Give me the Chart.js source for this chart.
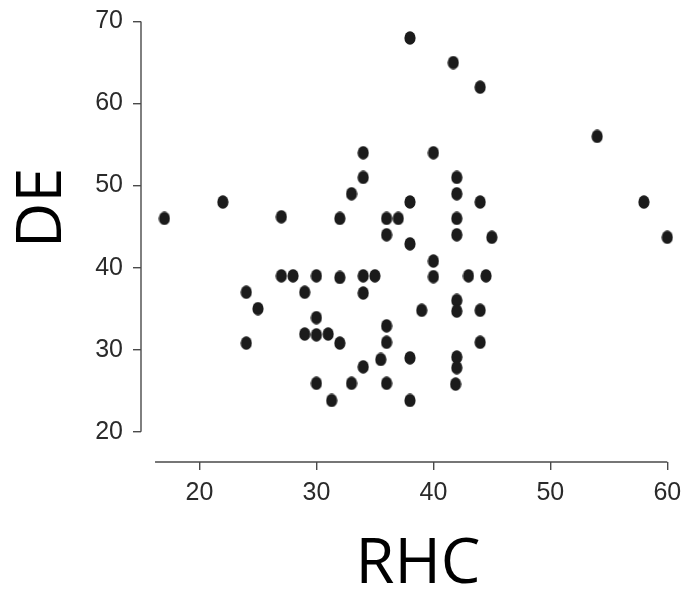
<!DOCTYPE html>
<html>
<head>
<meta charset="utf-8">
<script src="https://cdn.jsdelivr.net/npm/chart.js@4.4.1/dist/chart.umd.min.js"></script>
<style>
  html, body { margin: 0; padding: 0; background: #fff; }
  #wrap { width: 686px; height: 589px; }
</style>
</head>
<body>
<div id="wrap"><canvas id="chart" width="686" height="589"></canvas></div>
<script>
// RHC (x) vs DE (y)
const rhc = [17, 22, 27, 32, 33, 34, 34, 36, 36, 37,
             24, 25, 24, 27, 28, 29, 30, 32, 34, 35,
             34, 30, 29, 30, 31, 32, 30, 31.3, 33, 34,
             35.5, 36, 36, 36, 38, 41.7, 44, 54, 40, 42,
             42, 38, 44, 58, 42, 38, 42, 45, 60, 40,
             40, 43, 44.5, 42, 42, 44, 39, 44, 38, 42,
             42, 41.9, 38];
const de = [46, 48, 46.2, 46, 49, 51, 54, 46, 44, 46,
            37, 35, 30.8, 39, 39, 37, 39, 38.8, 39, 39,
            36.9, 33.9, 31.9, 31.8, 31.9, 30.8, 25.9, 23.8, 25.9, 27.9,
            28.8, 32.9, 30.9, 25.9, 68, 65, 62, 56, 54, 51,
            49, 48, 48, 48, 46, 42.9, 44, 43.7, 43.7, 40.8,
            38.9, 39, 39, 36, 34.7, 34.8, 34.8, 30.9, 29, 29.1,
            27.8, 25.8, 23.8];
const xTicks = [20, 30, 40, 50, 60];
const yTicks = [20, 30, 40, 50, 60, 70];
const xTitle = 'RHC';
const yTitle = 'DE';

const tickFont = { family: "'Liberation Sans Narrow', 'Arial Narrow', 'Liberation Sans', sans-serif", size: 25 };
const axisColor = '#4a4a4a';

// slightly tall dot, like the reference
function makeDot() {
    const c = document.createElement('canvas');
    c.width = 12;
    c.height = 14;
    const g = c.getContext('2d');
    g.fillStyle = '#1b1b1b';
    g.beginPath();
    g.ellipse(6, 7, 5.6, 6.8, 0, 0, Math.PI * 2);
    g.fill();
    return c;
}

// axis lines limited to the tick range (detached R-style axes) + big titles
const axesPlugin = {
    id: 'axesPlugin',
    beforeDatasetsDraw(chart) {
        const { ctx, scales: { x, y } } = chart;
        ctx.save();
        ctx.strokeStyle = axisColor;
        ctx.lineWidth = 1.4;
        ctx.beginPath();
        const ax = x.getPixelForValue(x.min);
        ctx.moveTo(ax, y.getPixelForValue(yTicks[0]));
        ctx.lineTo(ax, y.getPixelForValue(yTicks[yTicks.length - 1]));
        const ay = y.getPixelForValue(y.min);
        ctx.moveTo(x.getPixelForValue(16.2), ay);
        ctx.lineTo(x.getPixelForValue(xTicks[xTicks.length - 1]), ay);
        ctx.stroke();
        ctx.restore();
    },
    afterDraw(chart) {
        const { ctx } = chart;
        ctx.save();
        ctx.fillStyle = '#000';
        ctx.font = "63px 'Open Sans', 'Noto Sans', sans-serif";
        ctx.textAlign = 'center';
        ctx.textBaseline = 'alphabetic';
        ctx.fillText(xTitle, 418, 583);
        ctx.translate(61, 208);
        ctx.rotate(-Math.PI / 2);
        ctx.fillText(yTitle, 0, 0);
        ctx.restore();
    }
};

// no extra room for tick-label overhang; layout padding decides the plot box
function noOverhang(s) {
    s.paddingTop = 0;
    s.paddingBottom = 0;
    s.paddingLeft = 0;
    s.paddingRight = 0;
}

const ctx = document.getElementById('chart').getContext('2d');
new Chart(ctx, {
    type: 'scatter',
    data: {
        datasets: [{
            data: rhc.map((v, i) => ({ x: v, y: de[i] })),
            pointStyle: makeDot(),
            pointRadius: 6
        }]
    },
    options: {
        responsive: false,
        animation: false,
        layout: { padding: { top: 15, right: 3, left: 0, bottom: 0 } },
        plugins: { legend: { display: false }, tooltip: { enabled: false } },
        scales: {
            x: {
                type: 'linear',
                min: 15,
                max: 61,
                afterBuildTicks: s => { s.ticks = xTicks.map(v => ({ value: v })); },
                afterFit: s => { s.height = 127; noOverhang(s); },
                grid: { drawOnChartArea: false, drawTicks: true, tickLength: 8, color: axisColor, lineWidth: 1.4 },
                border: { display: false },
                ticks: { font: tickFont, color: '#2a2a2a', padding: 8, maxRotation: 0 }
            },
            y: {
                type: 'linear',
                min: 16.3,
                max: 70.8,
                afterBuildTicks: s => { s.ticks = yTicks.map(v => ({ value: v })); },
                afterFit: s => { s.width = 141; noOverhang(s); },
                grid: { drawOnChartArea: false, drawTicks: true, tickLength: 8, color: axisColor, lineWidth: 1.4 },
                border: { display: false },
                ticks: { font: tickFont, color: '#2a2a2a', padding: 10 }
            }
        }
    },
    plugins: [axesPlugin]
});
</script>
</body>
</html>
